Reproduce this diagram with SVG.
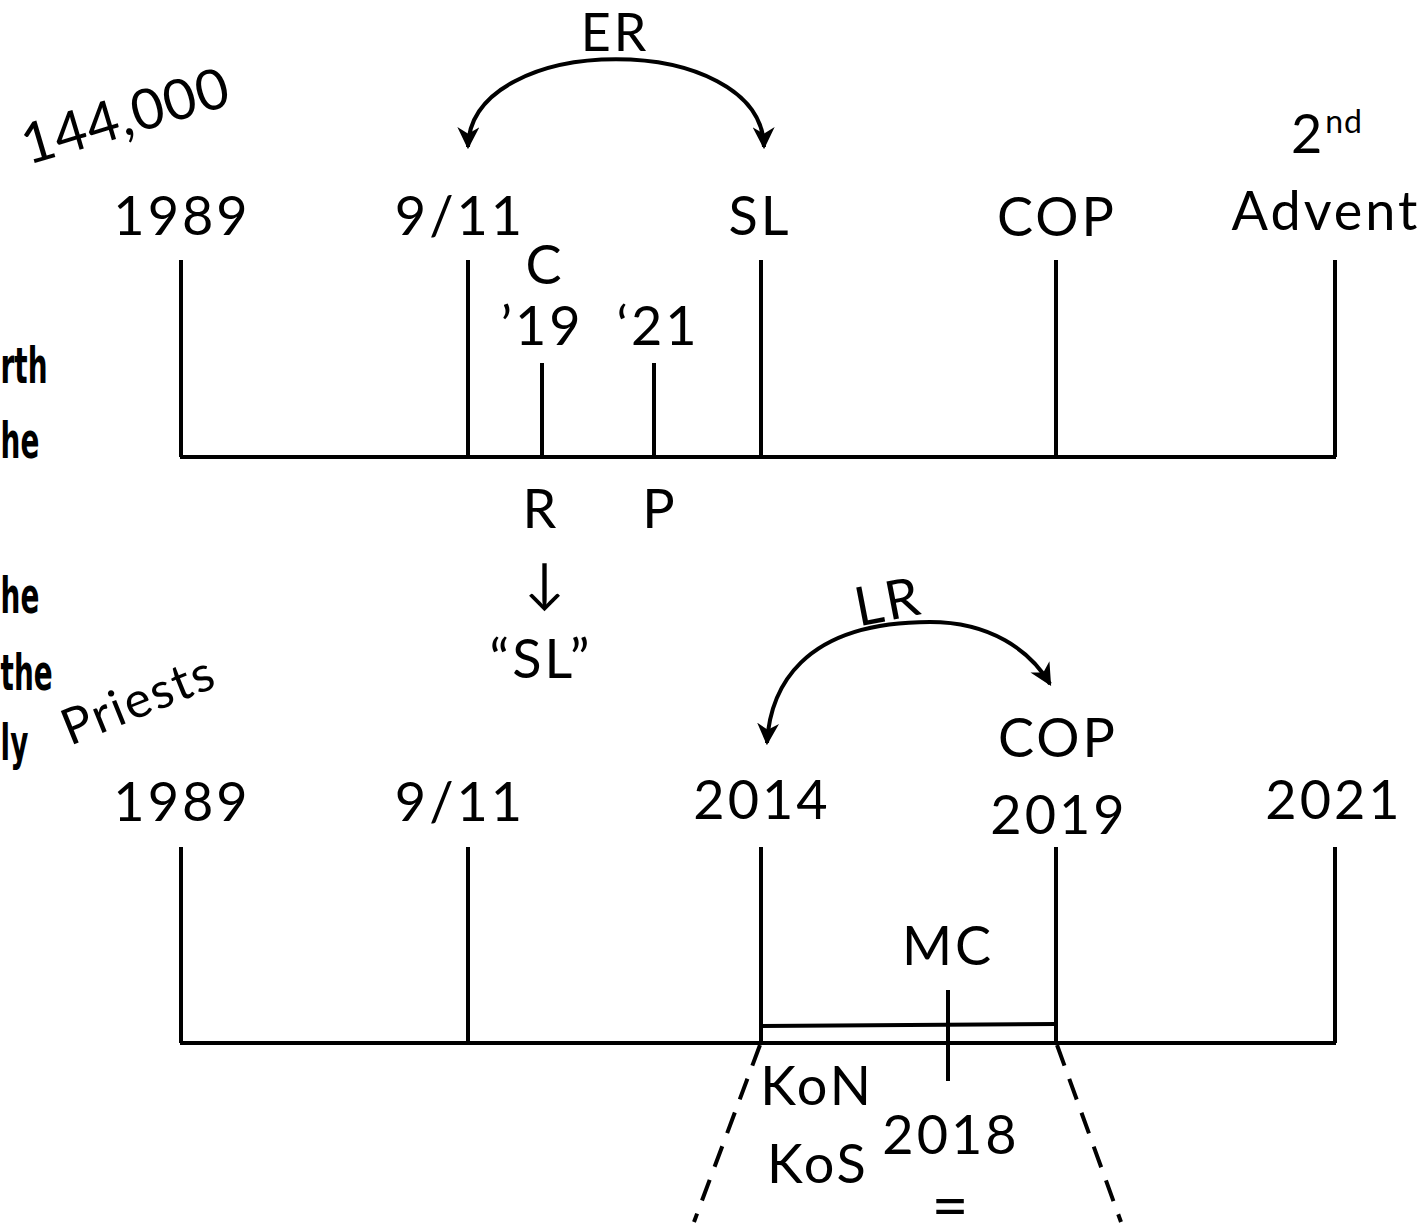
<svg xmlns="http://www.w3.org/2000/svg" width="1424" height="1231" viewBox="0 0 1424 1231">
<defs>
<style>
.t{font-family:Lato,"Liberation Sans",sans-serif;font-size:54px;fill:#000;text-anchor:middle;letter-spacing:3px}
.c{font-family:"DejaVu Sans Condensed","Liberation Sans",sans-serif;font-size:50px;fill:#000;font-weight:bold}
.ln{stroke:#000;stroke-width:4;fill:none}
.dash{stroke:#000;stroke-width:4;fill:none;stroke-dasharray:22 14}
</style>
<marker id="ah" viewBox="0 0 10 10" refX="9" refY="5" markerWidth="22" markerHeight="22" markerUnits="userSpaceOnUse" orient="auto-start-reverse">
<path d="M0,0 L10,5 L0,10 L3,5 z" fill="#000"/>
</marker>
</defs>
<rect width="1424" height="1231" fill="#fff"/>

<g id="left-notes" transform="scale(0.62 1)">
<text class="c" x="1" y="383">rth</text>
<text class="c" x="1" y="458">he</text>
<text class="c" x="1" y="613">he</text>
<text class="c" x="1" y="690">the</text>
<text class="c" x="1" y="760">ly</text>
</g>

<g id="label-144000"><text class="t" x="28" y="165" transform="rotate(-16.5 28 165)" style="text-anchor:start;font-size:56px;letter-spacing:1px">144,000</text></g>
<g id="label-priests"><text class="t" x="70" y="746" transform="rotate(-22 70 746)" style="text-anchor:start;font-size:50px;letter-spacing:2px">Priests</text></g>

<g id="timeline-top">
<line class="ln" x1="180" y1="457" x2="1336" y2="457"/>
<line class="ln" x1="181" y1="260" x2="181" y2="457"/>
<line class="ln" x1="468" y1="260" x2="468" y2="457"/>
<line class="ln" x1="542" y1="363" x2="542" y2="457"/>
<line class="ln" x1="654" y1="363" x2="654" y2="457"/>
<line class="ln" x1="761" y1="260" x2="761" y2="457"/>
<line class="ln" x1="1056" y1="260" x2="1056" y2="457"/>
<line class="ln" x1="1335" y1="260" x2="1335" y2="457"/>
</g>

<g id="node-1989-top"><text class="t" x="182" y="235">1989</text></g>
<g id="node-911-top"><text class="t" x="460" y="235">9/11</text></g>
<g id="node-sl-top"><text class="t" x="760" y="235">SL</text></g>
<g id="node-cop-top"><text class="t" x="1057" y="236">COP</text></g>
<g id="node-advent"><text class="t" x="1327" y="153"><tspan>2</tspan><tspan font-size="32" dy="-20" letter-spacing="1">nd</tspan></text><text class="t" x="1326" y="230">Advent</text></g>
<g id="node-c19"><text class="t" x="545" y="284">C</text><text class="t" x="542" y="345">’19</text></g>
<g id="node-21"><text class="t" x="658" y="345">‘21</text></g>
<g id="node-r"><text class="t" x="541" y="528">R</text><text class="t" x="546" y="602">↓</text><text class="t" x="541" y="678">“SL”</text></g>
<g id="node-p"><text class="t" x="660" y="528">P</text></g>
<g id="label-er"><text class="t" x="615" y="51" style="font-size:52px">ER</text></g>

<g id="timeline-bottom">
<line class="ln" x1="180" y1="1043" x2="1336" y2="1043"/>
<line class="ln" x1="181" y1="847" x2="181" y2="1043"/>
<line class="ln" x1="468" y1="847" x2="468" y2="1043"/>
<line class="ln" x1="761" y1="847" x2="761" y2="1043"/>
<line class="ln" x1="1056" y1="847" x2="1056" y2="1043"/>
<line class="ln" x1="1335" y1="847" x2="1335" y2="1043"/>
<line class="ln" x1="759" y1="1026" x2="1056" y2="1024"/>
<line class="ln" x1="948" y1="990" x2="948" y2="1081"/>
</g>

<g id="node-1989-bot"><text class="t" x="182" y="821">1989</text></g>
<g id="node-911-bot"><text class="t" x="460" y="821">9/11</text></g>
<g id="node-2014"><text class="t" x="762" y="819">2014</text></g>
<g id="node-2019"><text class="t" x="1058" y="757">COP</text><text class="t" x="1059" y="834">2019</text></g>
<g id="node-2021"><text class="t" x="1334" y="819">2021</text></g>
<g id="node-mc"><text class="t" x="948" y="965">MC</text></g>
<g id="node-kon"><text class="t" x="817" y="1105">KoN</text><text class="t" x="818" y="1183">KoS</text></g>
<g id="node-2018"><text class="t" x="951" y="1154">2018</text><text class="t" x="950" y="1228" style="font-size:64px;letter-spacing:0">=</text></g>
<g id="label-lr"><text class="t" x="892" y="620" transform="rotate(-11 892 620)">LR</text></g>

<g id="connectors">
<path class="ln" d="M468,147 C470,30 762,30 764,147" marker-start="url(#ah)" marker-end="url(#ah)"/>
<path class="ln" d="M767,743 C770,690 800,622 930,622 C990,622 1030,650 1050,684" marker-start="url(#ah)" marker-end="url(#ah)"/>
<line class="dash" x1="760" y1="1045" x2="694" y2="1222"/>
<line class="dash" x1="1057" y1="1045" x2="1121" y2="1222"/>
</g>
</svg>
